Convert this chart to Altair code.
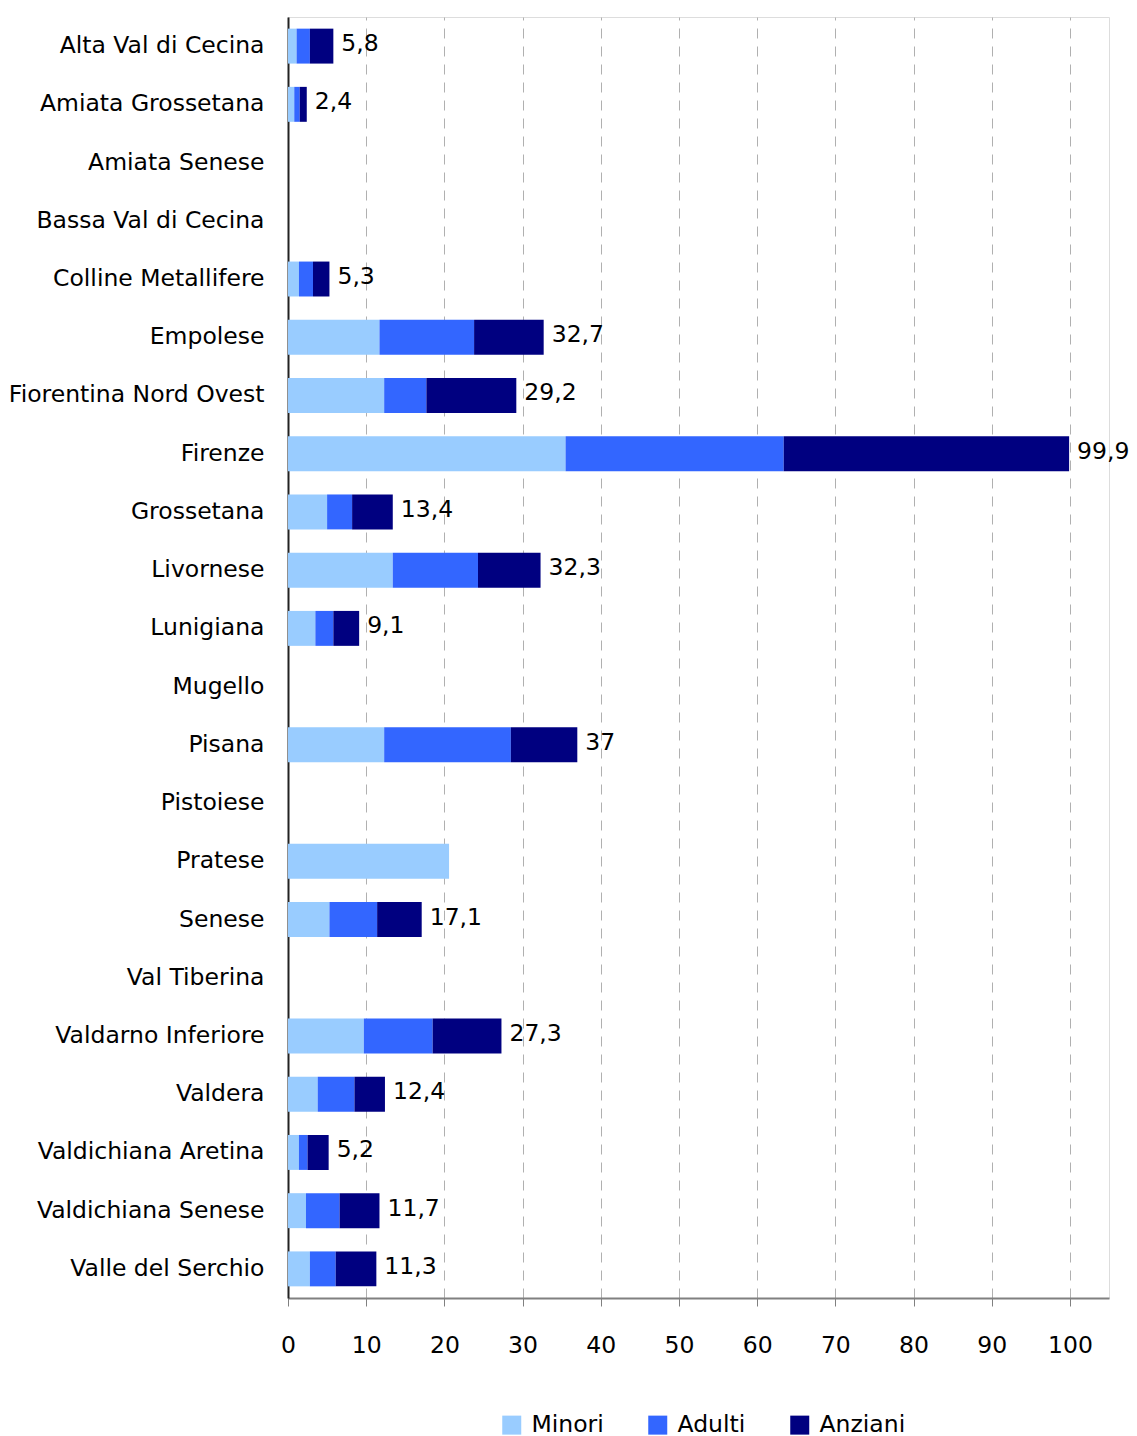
import altair as alt
import pandas as pd

categories = [
    "Alta Val di Cecina", "Amiata Grossetana", "Amiata Senese", "Bassa Val di Cecina",
    "Colline Metallifere", "Empolese", "Fiorentina Nord Ovest", "Firenze", "Grossetana",
    "Livornese", "Lunigiana", "Mugello", "Pisana", "Pistoiese", "Pratese", "Senese",
    "Val Tiberina", "Valdarno Inferiore", "Valdera", "Valdichiana Aretina",
    "Valdichiana Senese", "Valle del Serchio",
]
minori = [1.1, 0.8, None, None, 1.4, 11.7, 12.3, 35.5, 5.0, 13.4, 3.5, None, 12.3, None,
          20.6, 5.3, None, 9.7, 3.8, 1.4, 2.3, 2.8]
adulti = [1.7, 0.7, None, None, 1.8, 12.1, 5.4, 27.9, 3.2, 10.9, 2.3, None, 16.2, None,
          None, 6.1, None, 8.8, 4.7, 1.1, 4.3, 3.3]
anziani = [3.0, 0.9, None, None, 2.1, 8.9, 11.5, 36.5, 5.2, 8.0, 3.3, None, 8.5, None,
           None, 5.7, None, 8.8, 3.9, 2.7, 5.1, 5.2]
totali = ["5,8", "2,4", "", "", "5,3", "32,7", "29,2", "99,9", "13,4", "32,3", "9,1", "",
          "37", "", "", "17,1", "", "27,3", "12,4", "5,2", "11,7", "11,3"]
series = ["Minori", "Adulti", "Anziani"]
colors = ["#99CCFF", "#3366FF", "#000080"]
x_ticks = [0, 10, 20, 30, 40, 50, 60, 70, 80, 90, 100]

rows = []
for i, c in enumerate(categories):
    for k, (name, vals) in enumerate(zip(series, [minori, adulti, anziani])):
        if vals[i] is not None:
            rows.append({"zona": c, "serie": name, "valore": vals[i], "ord": k})
df = pd.DataFrame(rows)

lab_rows = []
for i, c in enumerate(categories):
    if totali[i]:
        tot = sum(v[i] for v in [minori, adulti, anziani] if v[i] is not None)
        lab_rows.append({"zona": c, "totale": tot, "etichetta": totali[i]})
df_lab = pd.DataFrame(lab_rows)

FONT = "DejaVu Sans"
FS = 23.5

y_scale = alt.Scale(domain=categories, paddingInner=0.4, paddingOuter=0.2)

y_enc = alt.Y("zona:N", sort=categories, scale=y_scale,
              axis=alt.Axis(title=None, ticks=False, tickSize=0, labelPadding=24,
                            labelFont=FONT, labelFontSize=FS, labelColor="#000000",
                            domainColor="#222222", domainWidth=2, grid=False,
                            labelLimit=400))

bars = alt.Chart(df).mark_bar().encode(
    x=alt.X("valore:Q", stack="zero",
            scale=alt.Scale(domain=[0, 105], nice=False),
            axis=alt.Axis(title=None, values=x_ticks, grid=True, gridDash=[10, 8],
                          gridColor="#b0b0b0", gridWidth=1,
                          domainColor="#808080", domainWidth=2,
                          tickColor="#808080", tickSize=8, tickWidth=1,
                          labelFont=FONT, labelFontSize=FS, labelColor="#000000",
                          labelPadding=27, labelFlush=False)),
    y=y_enc,
    color=alt.Color("serie:N",
                    scale=alt.Scale(domain=series, range=colors),
                    legend=alt.Legend(title=None, orient="none", legendX=212, legendY=1396,
                                      direction="horizontal", symbolType="square",
                                      symbolSize=361, symbolStrokeWidth=0,
                                      labelFont=FONT, labelFontSize=FS,
                                      labelColor="#000000", labelOffset=8,
                                      columnPadding=42, padding=0)),
    order=alt.Order("ord:Q"),
)

labels = alt.Chart(df_lab).mark_text(
    align="left", baseline="middle", dx=8, dy=-2,
    font=FONT, fontSize=FS, color="#000000"
).encode(
    x=alt.X("totale:Q"),
    y=alt.Y("zona:N", sort=categories, scale=y_scale),
    text="etichetta:N",
)

chart = alt.layer(bars, labels).properties(
    width=821, height=1281,
    autosize=alt.AutoSizeParams(type="none"),
    padding={"left": 280, "top": 9, "right": 20, "bottom": 145},
).configure_view(stroke=None).configure(background="white")

chart.save("out.html", embed_options={"renderer": "svg", "actions": False})
